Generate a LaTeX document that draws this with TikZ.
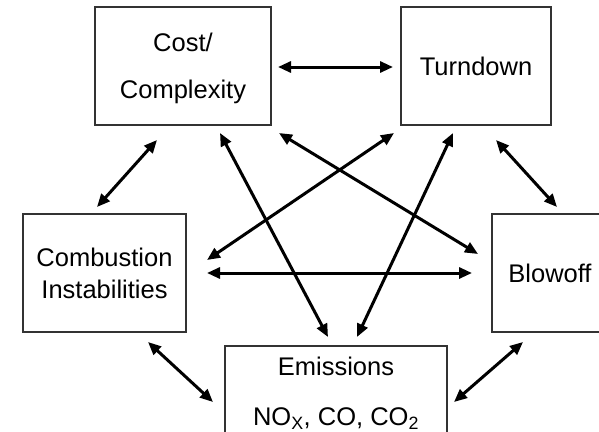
\documentclass[tikz,border=0pt]{standalone}
\usepackage{fontspec}
\setmainfont{Liberation Sans}
\usetikzlibrary{arrows.meta}
\begin{document}
\begin{tikzpicture}[x=1pt,y=-1pt,
  box/.style={draw=black!80, line width=1.5pt, inner sep=0pt, align=center,
    font=\fontsize{25.5}{32}\selectfont},
  link/.style={line width=3pt,
    {Triangle[length=13pt,width=11pt]}-{Triangle[length=13pt,width=11pt]}}]
\useasboundingbox (0,0) rectangle (599,431);
% boxes
\node[box, minimum width=176pt, minimum height=118pt] (cost) at (183,66) {\\[-8pt]Cost/\\[15pt]Complexity};
\node[box, minimum width=150pt, minimum height=118pt] (turn) at (476,66) {Turndown};
\node[box, minimum width=163pt, minimum height=118pt] (comb) at (104.5,273) {Combustion\\Instabilities};
\node[box, minimum width=116pt, minimum height=118pt] (blow) at (550,273) {Blowoff};
\node[box, minimum width=222pt, minimum height=94pt] (emis) at (336,393) {Emissions\\[18pt]NO\textsubscript{X}, CO, CO\textsubscript{2}};
% connector end points
\coordinate (ct1) at (278,67);  \coordinate (ct2) at (393,67);
\coordinate (cc1) at (157,140); \coordinate (cc2) at (97,207);
\coordinate (tb1) at (496,140); \coordinate (tb2) at (557,207);
\coordinate (ce1) at (148,342); \coordinate (ce2) at (213,402);
\coordinate (be1) at (523,342); \coordinate (be2) at (454,402);
\coordinate (cb1) at (207,273); \coordinate (cb2) at (472,273);
\coordinate (cob1) at (279,133); \coordinate (cob2) at (478,254);
\coordinate (tc1) at (394,133); \coordinate (tc2) at (207,260);
\coordinate (coe1) at (220,133); \coordinate (coe2) at (328,337);
\coordinate (te1) at (453,133); \coordinate (te2) at (357,337);
% connectors
\draw[link] (ct1) -- (ct2);
\draw[link] (cc1) -- (cc2);
\draw[link] (tb1) -- (tb2);
\draw[link] (ce1) -- (ce2);
\draw[link] (be1) -- (be2);
\draw[link] (cb1) -- (cb2);
\draw[link] (cob1) -- (cob2);
\draw[link] (tc1) -- (tc2);
\draw[link] (coe1) -- (coe2);
\draw[link] (te1) -- (te2);
\end{tikzpicture}
\end{document}
